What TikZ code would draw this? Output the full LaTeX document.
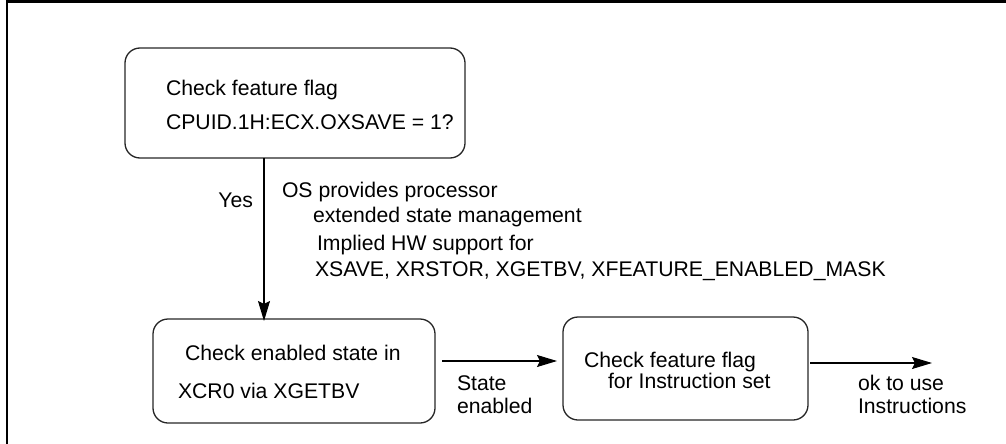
\documentclass[tikz,border=0pt]{standalone}
\usepackage{fontspec}
\setmainfont{Liberation Sans}
\usetikzlibrary{arrows.meta,calc}
\tikzset{
  box/.style={draw=black!85, line width=1.3pt, rounded corners=15pt, inner sep=0pt, outer sep=0pt},
  txt/.style={inner sep=0pt, outer sep=0pt, anchor=base west, font=\fontsize{21.2}{25}\selectfont},
  arr/.style={line width=1.1pt, -{Stealth[length=20pt,width=12pt,inset=3pt]}},
  frame/.style={black}
}
\begin{document}
\begin{tikzpicture}[x=1pt,y=-1pt]
\useasboundingbox (0,0) rectangle (1006,444);
% frame (top and left only)
\draw[frame, line width=3pt] (5.8,2) -- (1006,2);
\draw[frame, line width=2.5pt] (7,0.5) -- (7,444);
% boxes
\node[box, minimum width=340pt, minimum height=110pt] (b1) at (295,103) {};
\node[box, minimum width=282pt, minimum height=104pt] (b2) at (294,371) {};
\node[box, minimum width=245pt, minimum height=103pt] (b3) at (685.5,368.5) {};
% box texts
\node[txt] (t1a) at (166,95) {Check feature flag};
\node[txt] (t1b) at (166,129) {CPUID.1H:ECX.OXSAVE = 1?};
\node[txt] (t2a) at (185,360) {Check enabled state in};
\node[txt] (t2b) at (178,398) {XCR0 via XGETBV};
\node[txt] (t3a) at (584,367) {Check feature flag};
\node[txt] (t3b) at (608,388) {for Instruction set};
% labels
\node[txt, anchor=base east] (yes) at (253,207) {Yes};
\node[txt] (os) at (282,197) {OS provides processor};
\node[txt] (ext) at (313,222) {extended state management};
\node[txt] (imp) at (317,250) {Implied HW support for};
\node[txt] (xs) at (315,276) {XSAVE, XRSTOR, XGETBV, XFEATURE\_ENABLED\_MASK};
\node[txt] (st) at (457,390) {State};
\node[txt] (en) at (457,413) {enabled};
\node[txt] (ok) at (858,390) {ok to use};
\node[txt] (ins) at (858,413) {Instructions};
% connectors
\coordinate (ax) at (264,0);
\coordinate (ay) at (0,361);
\coordinate (by) at (0,363);
\coordinate (end) at (932,363);
\draw[arr] (b1.south -| ax) -- ([yshift=-2pt]b2.north -| ax);
\draw[arr] ([xshift=7pt]b2.east |- ay) -- ([xshift=-6pt]b3.west |- ay);
\draw[arr] ([xshift=2pt]b3.east |- by) -- (end);
\end{tikzpicture}
\end{document}
